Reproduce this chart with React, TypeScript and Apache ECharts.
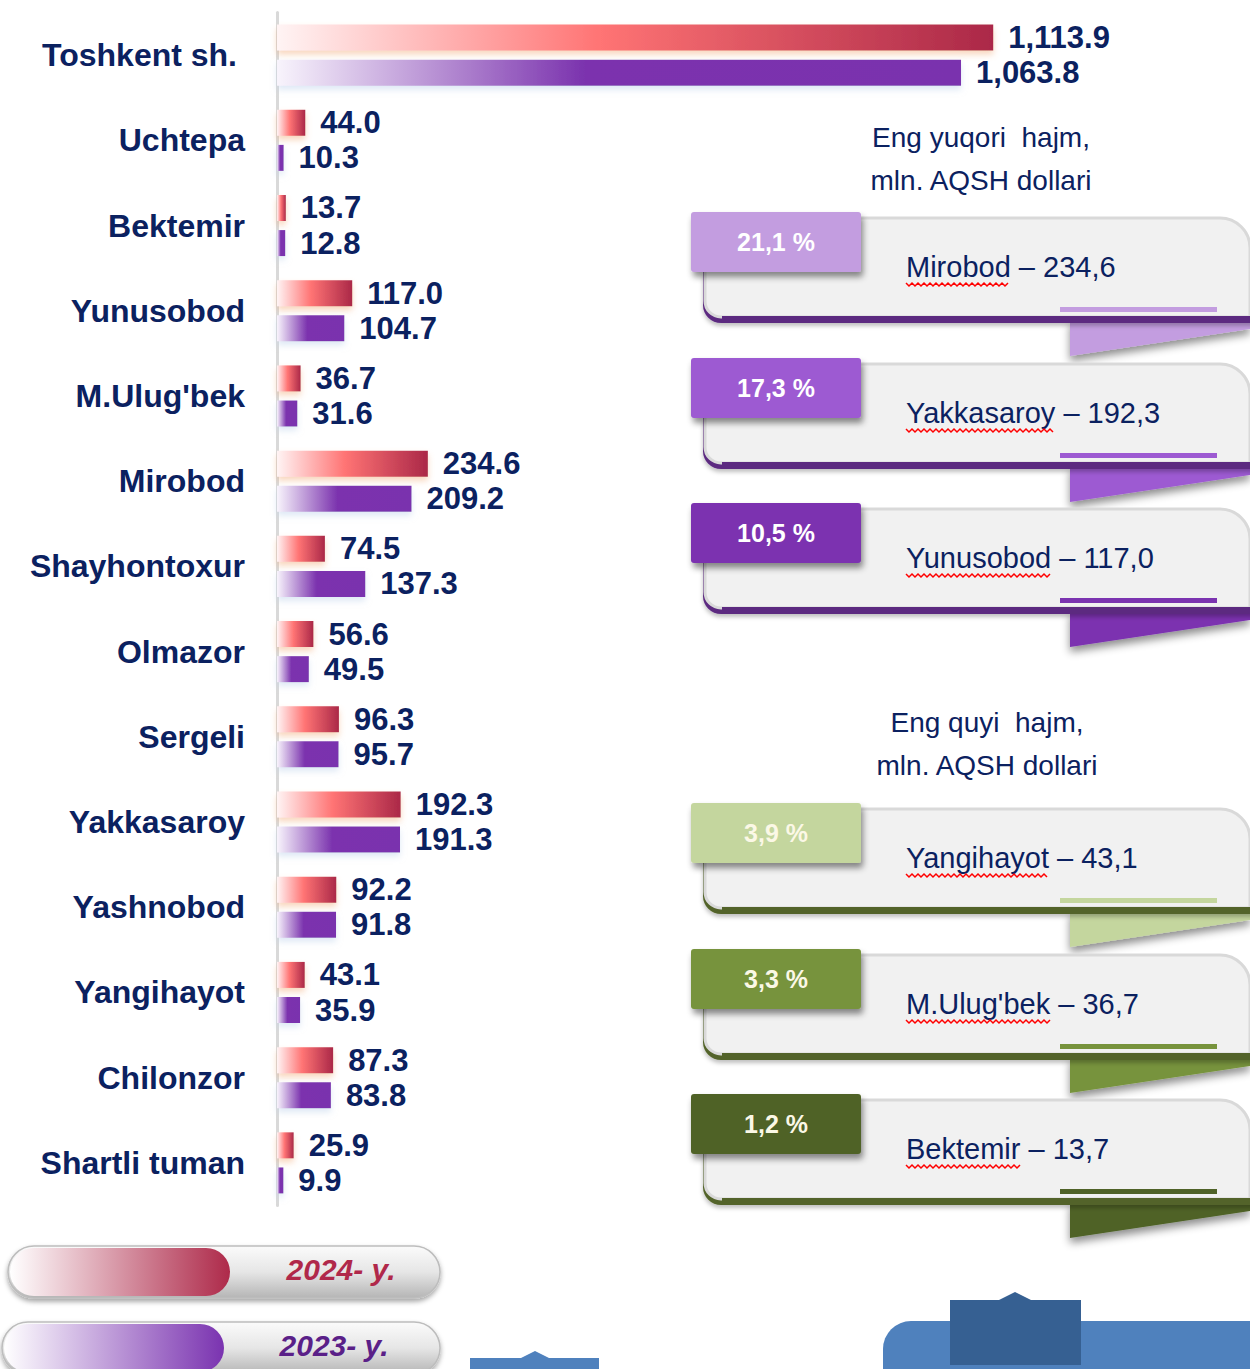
import React, { useEffect, useRef } from 'react';
import * as echarts from 'echarts';

const categories = ['Toshkent sh.', 'Uchtepa', 'Bektemir', 'Yunusobod', "M.Ulug'bek", 'Mirobod', 'Shayhontoxur', 'Olmazor', 'Sergeli', 'Yakkasaroy', 'Yashnobod', 'Yangihayot', 'Chilonzor', 'Shartli tuman'];
const values2024 = [1113.9, 44.0, 13.7, 117.0, 36.7, 234.6, 74.5, 56.6, 96.3, 192.3, 92.2, 43.1, 87.3, 25.9];
const values2023 = [1063.8, 10.3, 12.8, 104.7, 31.6, 209.2, 137.3, 49.5, 95.7, 191.3, 91.8, 35.9, 83.8, 9.9];
const seriesNames = ['2024- y.', '2023- y.'];

const topTitle = ['Eng yuqori\u00a0 hajm,', 'mln. AQSH dollari'];
const topShares = ['21,1 %', '17,3 %', '10,5 %'];
const topNames = ['Mirobod', 'Yakkasaroy', 'Yunusobod'];
const topValues = ['234,6', '192,3', '117,0'];

const lowTitle = ['Eng quyi\u00a0 hajm,', 'mln. AQSH dollari'];
const lowShares = ['3,9 %', '3,3 %', '1,2 %'];
const lowNames = ['Yangihayot', "M.Ulug'bek", 'Bektemir'];
const lowValues = ['43,1', '36,7', '13,7'];

const NAVY = '#0b2160';
const FONT = '"Liberation Sans", Arial, sans-serif';

function fmt(v: number): string {
  const [i, d] = v.toFixed(1).split('.');
  return i.replace(/\B(?=(\d{3})+(?!\d))/g, ',') + '.' + d;
}

function measure(text: string, font: string): number {
  const c = document.createElement('canvas').getContext('2d');
  if (!c) return text.length * 14;
  c.font = font;
  return c.measureText(text).width;
}

function zigzag(x0: number, y: number, w: number): number[][] {
  const pts: number[][] = [];
  let k = 0;
  for (let x = x0; x <= x0 + w; x += 3) {
    pts.push([x, k % 2 === 0 ? y : y + 3]);
    k++;
  }
  return pts;
}

function boxGraphics(y0: number, tabColor: string, bandColor: string, share: string, name: string, value: string, shareColor: string): any[] {
  const labelFont = `29px ${FONT}`;
  const w = measure(name, labelFont);
  return [
    {
      type: 'polygon', z: 1,
      shape: { points: [[1070, y0 + 108], [1250, y0 + 108], [1250, y0 + 117], [1070, y0 + 144]] },
      style: { fill: tabColor, shadowBlur: 8, shadowOffsetY: 5, shadowColor: 'rgba(0,0,0,0.45)' },
    },
    {
      type: 'rect', z: 2,
      shape: { x: 703, y: y0 + 60, width: 600, height: 51, r: [0, 0, 0, 18] },
      style: { fill: bandColor, shadowBlur: 4, shadowOffsetY: 3, shadowColor: 'rgba(0,0,0,0.25)' },
    },
    {
      type: 'rect', z: 3,
      shape: { x: 705, y: y0 + 6, width: 545, height: 99, r: [0, 30, 0, 16] },
      style: { fill: '#f1f1f1', stroke: '#d9d9d9', lineWidth: 3 },
    },
    {
      type: 'rect', z: 4,
      shape: { x: 722, y: y0 + 104, width: 540, height: 7 },
      style: { fill: bandColor },
    },
    {
      type: 'rect', z: 4,
      shape: { x: 1060, y: y0 + 95, width: 157, height: 5 },
      style: { fill: tabColor },
    },
    {
      type: 'rect', z: 5,
      shape: { x: 691, y: y0, width: 170, height: 60, r: 3 },
      style: { fill: tabColor, shadowBlur: 6, shadowOffsetX: 2, shadowOffsetY: 5, shadowColor: 'rgba(0,0,0,0.45)' },
    },
    {
      type: 'text', z: 6, x: 776, y: y0 + 30,
      style: { text: share, fill: shareColor, font: `bold 25px ${FONT}`, textAlign: 'center', textVerticalAlign: 'middle', verticalAlign: 'middle' },
    },
    {
      type: 'text', z: 6, x: 906, y: y0 + 55,
      style: { text: `${name} – ${value}`, fill: NAVY, font: labelFont, textAlign: 'left', textVerticalAlign: 'middle', verticalAlign: 'middle' },
    },
    {
      type: 'polyline', z: 6,
      shape: { points: zigzag(906, y0 + 71, w) },
      style: { stroke: '#ff0000', lineWidth: 1.5, fill: null },
    },
  ];
}

function titleGraphics(cx: number, y: number, lines: string[]): any[] {
  return lines.map((t, i) => ({
    type: 'text', z: 6, x: cx, y: y + i * 43,
    style: { text: t, fill: NAVY, font: `28px ${FONT}`, textAlign: 'center', textVerticalAlign: 'middle', verticalAlign: 'middle' },
  }));
}

function pillGraphics(x: number, y: number, w: number, h: number, innerW: number, endColor: string, lightColor: string, text: string, textColor: string, textX: number): any[] {
  return [
    {
      type: 'rect', z: 1,
      shape: { x, y, width: w, height: h, r: h / 2 },
      style: {
        fill: new echarts.graphic.LinearGradient(0, 0, 0, 1, [
          { offset: 0, color: '#fbfbfb' },
          { offset: 0.5, color: '#e6e6e6' },
          { offset: 1, color: '#b5b5b5' },
        ]),
        stroke: '#bdbdbd', lineWidth: 1.5,
        shadowBlur: 5, shadowOffsetY: 3, shadowColor: 'rgba(0,0,0,0.35)',
      },
    },
    {
      type: 'rect', z: 2,
      shape: { x: x + 2, y: y + 2, width: innerW, height: h - 4, r: (h - 4) / 2 },
      style: {
        fill: new echarts.graphic.LinearGradient(0, 0, 1, 0, [
          { offset: 0, color: lightColor },
          { offset: 1, color: endColor },
        ]),
      },
    },
    {
      type: 'text', z: 3, x: textX, y: y + h / 2 - 3,
      style: { text, fill: textColor, font: `italic bold 30px ${FONT}`, textAlign: 'center', textVerticalAlign: 'middle', verticalAlign: 'middle' },
    },
  ];
}

export default function App() {
  const ref = useRef<HTMLDivElement>(null);
  useEffect(() => {
    document.body.style.margin = '0';
    if (!ref.current) return;
    const chart = echarts.init(ref.current, undefined, { renderer: 'svg' });

    const topTabs = ['#c39de0', '#9d5ad2', '#7b33b0'];
    const lowTabs = ['#c4d69e', '#77933c', '#4f6228'];
    const topY = [212, 358, 503];
    const lowY = [803, 949, 1094];

    const graphics: any[] = [];
    graphics.push(...titleGraphics(981, 137, topTitle));
    graphics.push(...titleGraphics(987, 722, lowTitle));
    topY.forEach((y, i) => graphics.push(...boxGraphics(y, topTabs[i], '#5c2a80', topShares[i], topNames[i], topValues[i], '#ffffff')));
    lowY.forEach((y, i) => graphics.push(...boxGraphics(y, lowTabs[i], '#53632a', lowShares[i], lowNames[i], lowValues[i], '#fbf8e6')));
    graphics.push(...pillGraphics(8, 1246, 432, 52, 220, '#ae2a4a', '#ffffff', seriesNames[0], '#b0284a', 341));
    graphics.push(...pillGraphics(2, 1322, 438, 52, 220, '#7a33b0', '#ffffff', seriesNames[1], '#5a2088', 334));
    graphics.push(
      { type: 'rect', z: 1, shape: { x: 470, y: 1358, width: 129, height: 12 }, style: { fill: '#4f81bd' } },
      { type: 'polygon', z: 1, shape: { points: [[521, 1358], [535, 1351], [549, 1358]] }, style: { fill: '#4f81bd' } },
      { type: 'rect', z: 1, shape: { x: 883, y: 1321, width: 380, height: 60, r: [28, 0, 0, 0] }, style: { fill: '#4f81bd' } },
      { type: 'rect', z: 2, shape: { x: 950, y: 1300, width: 131, height: 65 }, style: { fill: '#366092' } },
      { type: 'polygon', z: 2, shape: { points: [[999, 1300], [1015, 1292], [1031, 1300]] }, style: { fill: '#366092' } },
    );

    const labelStyle = {
      show: true,
      position: 'right',
      distance: 15,
      color: NAVY,
      fontFamily: FONT,
      fontWeight: 'bold',
      fontSize: 31,
      formatter: (p: any) => fmt(p.value),
    };

    chart.setOption({
      animation: false,
      backgroundColor: '#ffffff',
      grid: { left: 277, right: 8.5, top: 12.5, bottom: 163.5, containLabel: false },
      xAxis: {
        type: 'value', min: 0, max: 1500,
        show: false,
      },
      yAxis: {
        type: 'category',
        data: categories,
        inverse: true,
        offset: 3,
        axisLine: { show: true, lineStyle: { color: '#d9d9d9', width: 3 } },
        axisTick: { show: false },
        axisLabel: {
          margin: 29,
          color: NAVY,
          fontFamily: FONT,
          fontWeight: 'bold',
          fontSize: 32,
          formatter: (v: string) => (v === 'Toshkent sh.' ? `{t|${v}}` : v),
          rich: {
            t: { color: NAVY, fontFamily: FONT, fontWeight: 'bold', fontSize: 32, padding: [0, 8, 0, 0] },
          },
        },
        splitLine: { show: false },
      },
      series: [
        {
          name: seriesNames[0],
          type: 'bar',
          data: values2024,
          barWidth: 26,
          barGap: '35%',
          itemStyle: {
            color: new echarts.graphic.LinearGradient(0, 0, 1, 0, [
              { offset: 0, color: '#fff4f4' },
              { offset: 0.45, color: '#ff7474' },
              { offset: 1, color: '#ab2848' },
            ]),
            shadowBlur: 6,
            shadowOffsetY: 4,
            shadowColor: 'rgba(240,165,110,0.45)',
          },
          label: labelStyle,
        },
        {
          name: seriesNames[1],
          type: 'bar',
          data: values2023,
          barWidth: 26,
          barGap: '35%',
          itemStyle: {
            color: new echarts.graphic.LinearGradient(0, 0, 1, 0, [
              { offset: 0, color: '#f8f4fc' },
              { offset: 0.45, color: '#7b33ae' },
              { offset: 1, color: '#7a32ae' },
            ]),
            shadowBlur: 6,
            shadowOffsetY: 4,
            shadowColor: 'rgba(190,210,235,0.5)',
          },
          label: labelStyle,
        },
      ],
      graphic: graphics,
    });
    return () => chart.dispose();
  }, []);
  return <div ref={ref} style={{ width: 1250, height: 1369 }} />;
}
